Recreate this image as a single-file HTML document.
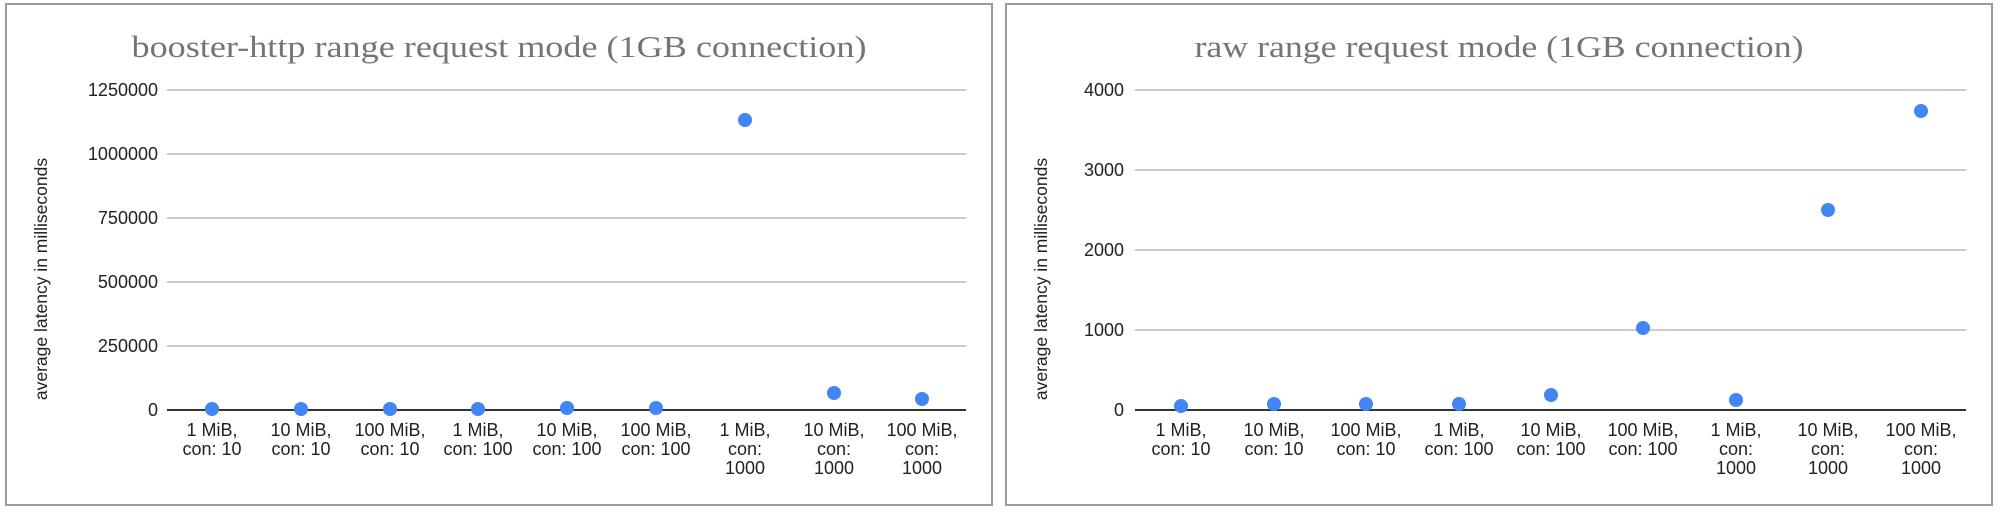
<!DOCTYPE html>
<html><head><meta charset="utf-8"><style>
html,body{margin:0;padding:0;background:#fff;width:2000px;height:512px;overflow:hidden}
svg{display:block}
.t{font-family:"Liberation Serif",serif;font-size:31px;fill:#757575}
.y{font-family:"Liberation Sans",sans-serif;font-size:18px;fill:#222;text-anchor:end}
.x{font-family:"Liberation Sans",sans-serif;font-size:18px;fill:#222;text-anchor:middle}
.a{font-family:"Liberation Sans",sans-serif;font-size:17.5px;fill:#222;text-anchor:middle}
.g{stroke:#ccc;stroke-width:2}
.b{stroke:#333;stroke-width:2}
.p{fill:#4285f4}
</style></head><body>
<svg width="2000" height="512" viewBox="0 0 2000 512" xmlns="http://www.w3.org/2000/svg">
<rect x="6" y="4" width="986" height="501" fill="#fff" stroke="#9a9a9a" stroke-width="2"/>
<rect x="1006" y="4" width="986" height="501" fill="#fff" stroke="#9a9a9a" stroke-width="2"/>
<!-- Left chart -->
<text class="t" x="499" y="57" text-anchor="middle" textLength="735" lengthAdjust="spacingAndGlyphs">booster-http range request mode (1GB connection)</text>
<g>
<line class="g" x1="167" x2="966" y1="90" y2="90"/>
<line class="g" x1="167" x2="966" y1="154" y2="154"/>
<line class="g" x1="167" x2="966" y1="218" y2="218"/>
<line class="g" x1="167" x2="966" y1="282" y2="282"/>
<line class="g" x1="167" x2="966" y1="346" y2="346"/>
<line class="b" x1="167" x2="966" y1="410" y2="410"/>
<text class="y" x="158" y="96">1250000</text>
<text class="y" x="158" y="160">1000000</text>
<text class="y" x="158" y="224">750000</text>
<text class="y" x="158" y="288">500000</text>
<text class="y" x="158" y="352">250000</text>
<text class="y" x="158" y="416">0</text>
<text class="a" transform="translate(47,279) rotate(-90)">average latency in milliseconds</text>
<circle class="p" cx="212" cy="409" r="7"/>
<circle class="p" cx="301" cy="409" r="7"/>
<circle class="p" cx="390" cy="409" r="7"/>
<circle class="p" cx="478" cy="409" r="7"/>
<circle class="p" cx="567" cy="408" r="7"/>
<circle class="p" cx="656" cy="408" r="7"/>
<circle class="p" cx="745" cy="120" r="7"/>
<circle class="p" cx="834" cy="393" r="7"/>
<circle class="p" cx="922" cy="399" r="7"/>
<text class="x" x="212" y="436">1 MiB,<tspan x="212" dy="19">con: 10</tspan></text>
<text class="x" x="301" y="436">10 MiB,<tspan x="301" dy="19">con: 10</tspan></text>
<text class="x" x="390" y="436">100 MiB,<tspan x="390" dy="19">con: 10</tspan></text>
<text class="x" x="478" y="436">1 MiB,<tspan x="478" dy="19">con: 100</tspan></text>
<text class="x" x="567" y="436">10 MiB,<tspan x="567" dy="19">con: 100</tspan></text>
<text class="x" x="656" y="436">100 MiB,<tspan x="656" dy="19">con: 100</tspan></text>
<text class="x" x="745" y="436">1 MiB,<tspan x="745" dy="19">con:</tspan><tspan x="745" dy="19">1000</tspan></text>
<text class="x" x="834" y="436">10 MiB,<tspan x="834" dy="19">con:</tspan><tspan x="834" dy="19">1000</tspan></text>
<text class="x" x="922" y="436">100 MiB,<tspan x="922" dy="19">con:</tspan><tspan x="922" dy="19">1000</tspan></text>
</g>
<!-- Right chart -->
<text class="t" x="1499" y="57" text-anchor="middle" textLength="609" lengthAdjust="spacingAndGlyphs">raw range request mode (1GB connection)</text>
<g>
<line class="g" x1="1135" x2="1966" y1="90" y2="90"/>
<line class="g" x1="1135" x2="1966" y1="170" y2="170"/>
<line class="g" x1="1135" x2="1966" y1="250" y2="250"/>
<line class="g" x1="1135" x2="1966" y1="330" y2="330"/>
<line class="b" x1="1135" x2="1966" y1="410" y2="410"/>
<text class="y" x="1124" y="96">4000</text>
<text class="y" x="1124" y="176">3000</text>
<text class="y" x="1124" y="256">2000</text>
<text class="y" x="1124" y="336">1000</text>
<text class="y" x="1124" y="416">0</text>
<text class="a" transform="translate(1047,279) rotate(-90)">average latency in milliseconds</text>
<circle class="p" cx="1181" cy="406" r="7"/>
<circle class="p" cx="1274" cy="404" r="7"/>
<circle class="p" cx="1366" cy="404" r="7"/>
<circle class="p" cx="1459" cy="404" r="7"/>
<circle class="p" cx="1551" cy="395" r="7"/>
<circle class="p" cx="1643" cy="328" r="7"/>
<circle class="p" cx="1736" cy="400" r="7"/>
<circle class="p" cx="1828" cy="210" r="7"/>
<circle class="p" cx="1921" cy="111" r="7"/>
<text class="x" x="1181" y="436">1 MiB,<tspan x="1181" dy="19">con: 10</tspan></text>
<text class="x" x="1274" y="436">10 MiB,<tspan x="1274" dy="19">con: 10</tspan></text>
<text class="x" x="1366" y="436">100 MiB,<tspan x="1366" dy="19">con: 10</tspan></text>
<text class="x" x="1459" y="436">1 MiB,<tspan x="1459" dy="19">con: 100</tspan></text>
<text class="x" x="1551" y="436">10 MiB,<tspan x="1551" dy="19">con: 100</tspan></text>
<text class="x" x="1643" y="436">100 MiB,<tspan x="1643" dy="19">con: 100</tspan></text>
<text class="x" x="1736" y="436">1 MiB,<tspan x="1736" dy="19">con:</tspan><tspan x="1736" dy="19">1000</tspan></text>
<text class="x" x="1828" y="436">10 MiB,<tspan x="1828" dy="19">con:</tspan><tspan x="1828" dy="19">1000</tspan></text>
<text class="x" x="1921" y="436">100 MiB,<tspan x="1921" dy="19">con:</tspan><tspan x="1921" dy="19">1000</tspan></text>
</g>
</svg>
</body></html>
